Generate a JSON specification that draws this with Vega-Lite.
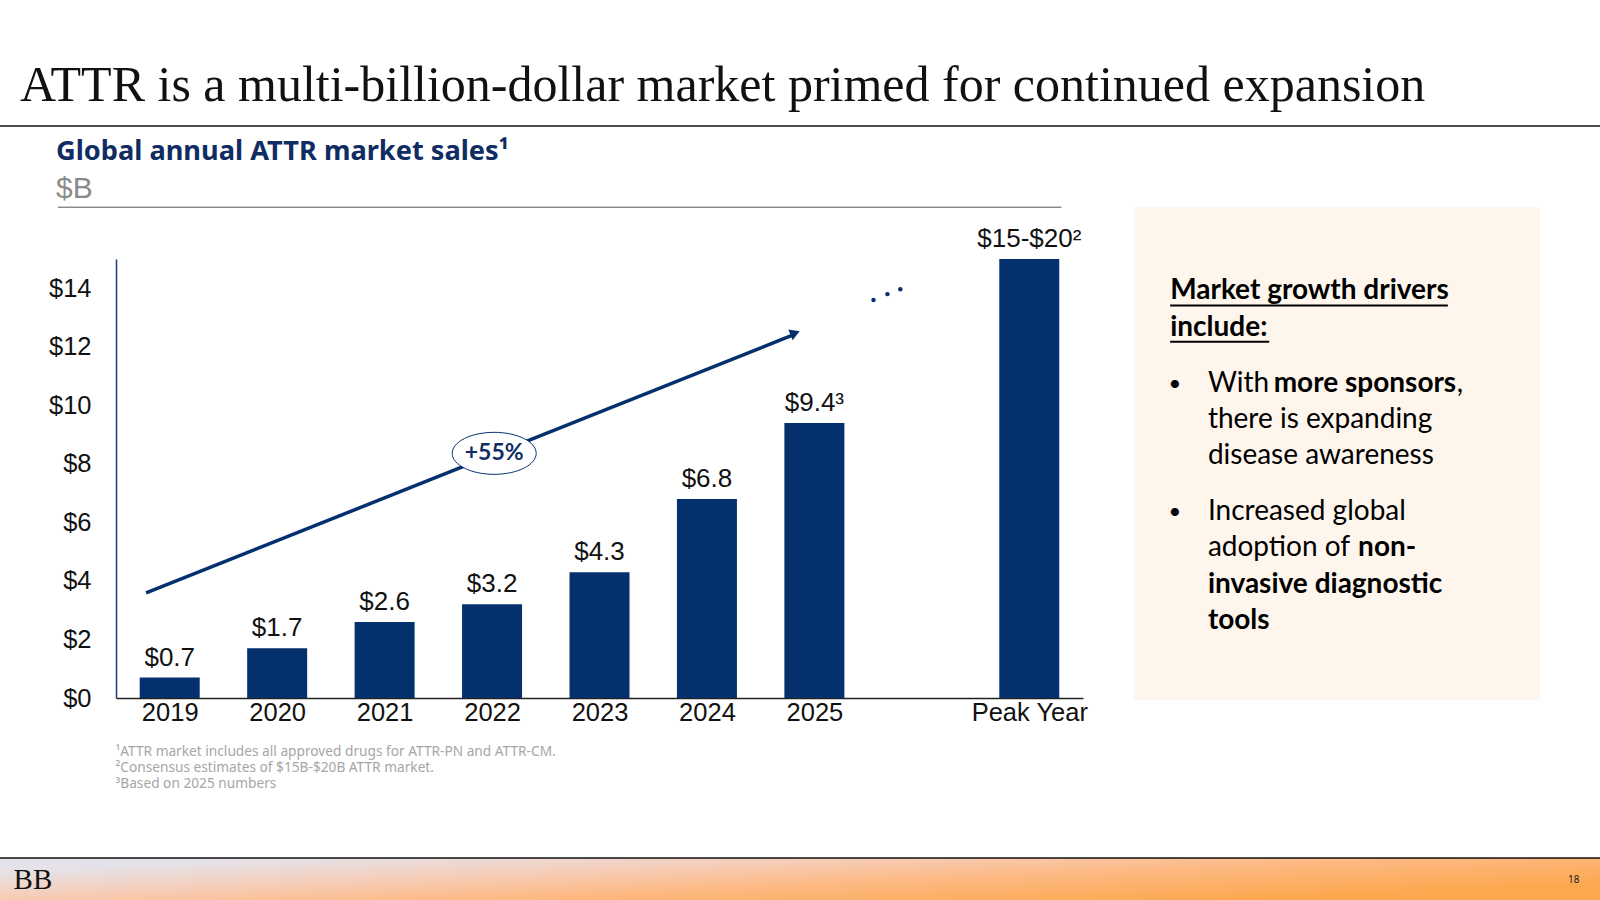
{
  "$schema": "https://vega.github.io/schema/vega-lite/v6.json",
  "padding": {"left": -1, "top": -1, "right": 0, "bottom": 0},
  "background": "white",
  "spacing": 0,
  "config": {
    "view": {"stroke": null},
    "font": "Liberation Sans",
    "axis": {"grid": false, "ticks": false}
  },
  "vconcat": [
    {
      "width": 1600,
      "height": 127,
      "title": {
        "text": "ATTR is a multi-billion-dollar market primed for continued expansion",
        "font": "Liberation Serif",
        "fontSize": 50,
        "fontWeight": "normal",
        "color": "#111111",
        "anchor": "start",
        "frame": "group",
        "baseline": "alphabetic",
        "offset": -152,
        "dx": 20
      },
      "data": {"values": [{}]},
      "mark": {"type": "rule", "color": "#111111", "strokeWidth": 1.5},
      "encoding": {
        "y": {"datum": 0, "type": "quantitative", "scale": {"domain": [0, 1]}, "axis": null}
      }
    },
    {
      "spacing": 0,
      "hconcat": [
        {
          "width": 1134,
          "height": 730,
          "title": {
            "text": "Global annual ATTR market sales¹",
            "subtitle": "$B",
            "font": "Noto Sans",
            "fontSize": 27.2,
            "fontWeight": "bold",
            "color": "#0f2d63",
            "subtitleFont": "Liberation Sans",
            "subtitleFontSize": 30,
            "subtitleColor": "#8a8a8a",
            "subtitlePadding": 11,
            "anchor": "start",
            "frame": "group",
            "baseline": "alphabetic",
            "offset": -99,
            "dx": 56
          },
          "encoding": {
            "x": {
              "field": "slot",
              "type": "quantitative",
              "scale": {"domain": [2018.5, 2027.5], "range": [116, 1083], "nice": false, "zero": false, "padding": 0},
              "axis": {
                "values": [2019, 2020, 2021, 2022, 2023, 2024, 2025, 2027],
                "labelExpr": "datum.value == 2027 ? 'Peak Year' : format(datum.value, 'd')",
                "labelFont": "Liberation Sans",
                "labelFontSize": 25.5,
                "labelColor": "#111111",
                "labelPadding": 2,
                "labelFlush": false,
                "labelOverlap": false,
                "domainColor": "#222222",
                "domainWidth": 1.5,
                "offset": -159,
                "title": [
                  "¹ATTR market includes all approved drugs for ATTR-PN and ATTR-CM.",
                  "²Consensus estimates of $15B-$20B ATTR market.",
                  "³Based on 2025 numbers"
                ],
                "titleFont": "Noto Sans",
                "titleFontSize": 13.7,
                "titleFontWeight": "normal",
                "titleColor": "#a6a6a6",
                "titleAlign": "left",
                "titleBaseline": "top",
                "titleLineHeight": 16.3,
                "titleX": 115,
                "titleY": 46
              }
            },
            "y": {
              "field": "sales",
              "type": "quantitative",
              "scale": {"domain": [0, 15], "range": [571, 132], "nice": false, "zero": false},
              "axis": {
                "values": [0, 2, 4, 6, 8, 10, 12, 14],
                "format": "$d",
                "labelFont": "Liberation Sans",
                "labelFontSize": 25.5,
                "labelColor": "#111111",
                "labelPadding": 25,
                "domainColor": "#1c3f77",
                "domainWidth": 1.5,
                "offset": -116,
                "title": null
              }
            }
          },
          "layer": [
            {
              "data": {"values": [{"slot": 2017.96, "slot_end": 2027.3, "sales": 16.77}]},
              "mark": {"type": "rule", "color": "#555555", "strokeWidth": 1},
              "encoding": {"x2": {"field": "slot_end"}}
            },
            {
              "data": {
                "values": [
                  {"slot": 2019, "sales": 0.7, "label": "$0.7"},
                  {"slot": 2020, "sales": 1.7, "label": "$1.7"},
                  {"slot": 2021, "sales": 2.6, "label": "$2.6"},
                  {"slot": 2022, "sales": 3.2, "label": "$3.2"},
                  {"slot": 2023, "sales": 4.3, "label": "$4.3"},
                  {"slot": 2024, "sales": 6.8, "label": "$6.8"},
                  {"slot": 2025, "sales": 9.4, "label": "$9.4³"},
                  {"slot": 2027, "sales": 15, "label": "$15-$20²"}
                ]
              },
              "layer": [
                {"mark": {"type": "bar", "width": 60, "color": "#04306e"}},
                {
                  "mark": {"type": "text", "fontSize": 26, "color": "#111111", "baseline": "alphabetic", "dy": -12},
                  "encoding": {"text": {"field": "label"}}
                }
              ]
            },
            {
              "data": {
                "values": [
                  {"slot": 2018.78, "sales": 3.59},
                  {"slot": 2024.82, "sales": 12.43}
                ]
              },
              "mark": {"type": "line", "color": "#04306e", "strokeWidth": 3.5}
            },
            {
              "data": {"values": [{"slot": 2024.82, "sales": 12.47}]},
              "mark": {"type": "point", "shape": "triangle-up", "filled": true, "color": "#04306e", "opacity": 1, "size": 130, "angle": 68}
            },
            {
              "data": {
                "values": [
                  {"slot": 2025.55, "sales": 13.6},
                  {"slot": 2025.68, "sales": 13.8},
                  {"slot": 2025.8, "sales": 13.97}
                ]
              },
              "mark": {"type": "point", "shape": "circle", "filled": true, "color": "#04306e", "opacity": 1, "size": 20}
            },
            {
              "data": {"values": [{"slot": 2022.02, "sales": 8.36, "label": "+55%"}]},
              "layer": [
                {
                  "mark": {
                    "type": "point",
                    "shape": "M-1,0A1,0.5 0 1 1 1,0A1,0.5 0 1 1 -1,0Z",
                    "size": 7056,
                    "filled": true,
                    "fill": "white",
                    "fillOpacity": 1,
                    "opacity": 1,
                    "stroke": "#04306e",
                    "strokeWidth": 1
                  }
                },
                {
                  "mark": {"type": "text", "font": "Lato", "fontWeight": "bold", "fontSize": 23, "color": "#0f2d63"},
                  "encoding": {"text": {"field": "label"}}
                }
              ]
            }
          ]
        },
        {
          "width": 466,
          "height": 730,
          "encoding": {
            "x": {"datum": 0.182, "type": "quantitative", "scale": {"domain": [0, 1.1478], "nice": false, "zero": false}, "axis": null},
            "y": {"field": "line", "type": "quantitative", "scale": {"domain": [-3.543, 16.623], "range": [0, 730], "nice": false, "zero": false}, "axis": null},
            "text": {"field": "text"}
          },
          "layer": [
            {
              "data": {"values": [{"line": -1.33, "line_end": 12.29}]},
              "mark": {"type": "rect", "color": "#fef5ed"},
              "encoding": {
                "x": {"datum": 0, "type": "quantitative", "axis": null},
                "x2": {"datum": 1},
                "y2": {"field": "line_end"},
                "text": null
              }
            },
            {
              "data": {"values": [{"line": 1, "text": "Market growth drivers"}, {"line": 2, "text": "include:"}]},
              "mark": {"type": "text", "font": "Lato", "fontWeight": "bold", "fontSize": 28, "align": "left", "color": "#000000"},
              "encoding": {"x": {"datum": 0.089, "type": "quantitative", "axis": null}}
            },
            {
              "data": {"values": [{"line": 1.39}]},
              "mark": {"type": "rule", "color": "#000000", "strokeWidth": 2},
              "encoding": {
                "x": {"datum": 0.089, "type": "quantitative", "axis": null},
                "x2": {"datum": 0.773},
                "text": null
              }
            },
            {
              "data": {"values": [{"line": 2.39}]},
              "mark": {"type": "rule", "color": "#000000", "strokeWidth": 2},
              "encoding": {
                "x": {"datum": 0.089, "type": "quantitative", "axis": null},
                "x2": {"datum": 0.333},
                "text": null
              }
            },
            {
              "data": {"values": [{"line": 3.55, "text": "•"}, {"line": 7.1, "text": "•"}]},
              "mark": {"type": "text", "font": "Lato", "fontSize": 22, "align": "left", "color": "#000000"},
              "encoding": {"x": {"datum": 0.085, "type": "quantitative", "axis": null}}
            },
            {
              "data": {
                "values": [
                  {"line": 3.55, "text": "With"},
                  {"line": 4.55, "text": "there is expanding"},
                  {"line": 5.55, "text": "disease awareness"},
                  {"line": 7.1, "text": "Increased global"},
                  {"line": 8.1, "text": "adoption of"}
                ]
              },
              "mark": {"type": "text", "font": "Lato", "fontSize": 28, "align": "left", "color": "#000000"}
            },
            {
              "data": {"values": [{"line": 9.1, "text": "invasive diagnostic"}, {"line": 10.1, "text": "tools"}]},
              "mark": {"type": "text", "font": "Lato", "fontWeight": "bold", "fontSize": 28, "align": "left", "color": "#000000"}
            },
            {
              "data": {"values": [{"line": 3.55, "text": "more sponsors"}]},
              "mark": {"type": "text", "font": "Lato", "fontWeight": "bold", "fontSize": 28, "align": "left", "color": "#000000"},
              "encoding": {"x": {"datum": 0.344, "type": "quantitative", "axis": null}}
            },
            {
              "data": {"values": [{"line": 3.55, "text": ","}]},
              "mark": {"type": "text", "font": "Lato", "fontSize": 28, "align": "left", "color": "#000000"},
              "encoding": {"x": {"datum": 0.795, "type": "quantitative", "axis": null}}
            },
            {
              "data": {"values": [{"line": 8.1, "text": "non-"}]},
              "mark": {"type": "text", "font": "Lato", "fontWeight": "bold", "fontSize": 28, "align": "left", "color": "#000000"},
              "encoding": {"x": {"datum": 0.552, "type": "quantitative", "axis": null}}
            }
          ]
        }
      ]
    },
    {
      "width": 1600,
      "height": 43,
      "encoding": {
        "x": {"datum": 0, "type": "quantitative", "scale": {"domain": [0, 1], "nice": false, "zero": false}, "axis": null},
        "y": {"datum": 0.5, "type": "quantitative", "scale": {"domain": [0, 1], "nice": false, "zero": false}, "axis": null}
      },
      "data": {"values": [{}]},
      "layer": [
        {
          "mark": {
            "type": "rect",
            "color": {
              "gradient": "linear",
              "x1": 0, "y1": 0, "x2": 1, "y2": 0.6,
              "stops": [
                {"offset": 0, "color": "#e1e4ef"},
                {"offset": 0.15, "color": "#e6e1e6"},
                {"offset": 0.4, "color": "#f6cdb8"},
                {"offset": 0.65, "color": "#fdb983"},
                {"offset": 1, "color": "#fca84f"}
              ]
            }
          },
          "encoding": {
            "x": {"datum": 0, "type": "quantitative", "axis": null},
            "x2": {"datum": 1},
            "y": {"datum": 0, "type": "quantitative", "axis": null},
            "y2": {"datum": 1}
          }
        },
        {
          "mark": {"type": "rule", "color": "#111111", "strokeWidth": 1.5},
          "encoding": {
            "x": {"datum": 0, "type": "quantitative", "axis": null},
            "x2": {"datum": 1},
            "y": {"datum": 1, "type": "quantitative", "axis": null}
          }
        },
        {
          "mark": {"type": "text", "text": "BB", "font": "Liberation Serif", "fontSize": 29, "align": "left", "color": "#111111"},
          "encoding": {"x": {"datum": 0.0085, "type": "quantitative", "axis": null}}
        },
        {
          "mark": {"type": "text", "text": "18", "font": "Noto Sans", "fontSize": 10, "align": "left", "color": "#222222"},
          "encoding": {"x": {"datum": 0.98, "type": "quantitative", "axis": null}}
        }
      ]
    }
  ]
}
